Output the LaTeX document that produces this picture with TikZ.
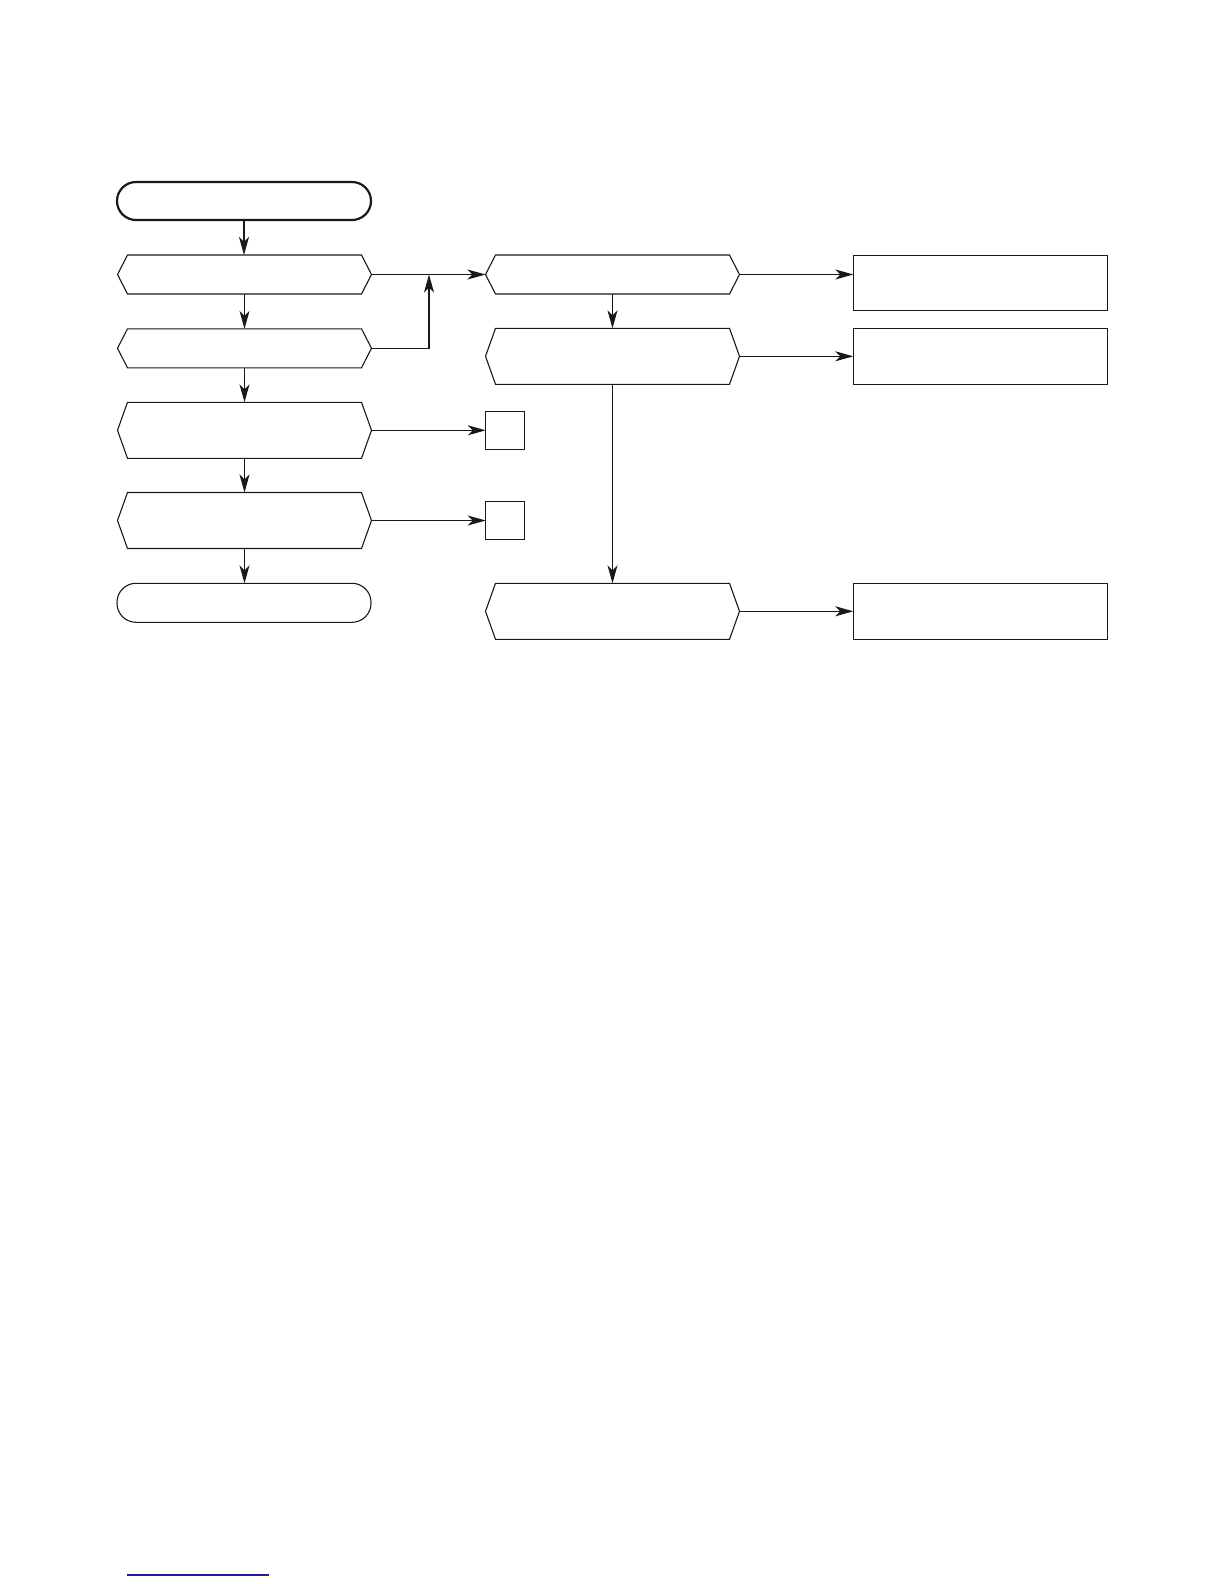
\documentclass[tikz,border=0pt]{standalone}
\usetikzlibrary{arrows.meta}
\definecolor{linkblue}{RGB}{30,30,150}
\definecolor{ink}{RGB}{25,25,25}
\newcommand\hexoutline[1]{%
  \draw[plain] (#1.west) -- ([xshift=10pt]#1.north west) -- ([xshift=-10pt]#1.north east)
    -- (#1.east) -- ([xshift=-10pt]#1.south east) -- ([xshift=10pt]#1.south west) -- cycle;}
\begin{document}
\begin{tikzpicture}[x=1pt,y=-1pt,
  box/.style={draw=ink,line width=1.1pt,inner sep=0pt,outer sep=0pt,minimum width=#1},
  hexbox/.style={inner sep=0pt,outer sep=0pt,minimum width=254pt,minimum height=#1},
  term/.style={draw=ink,inner sep=0pt,outer sep=0pt,minimum width=254pt,minimum height=#1,rounded corners=19pt},
  conn/.style={draw=ink,line width=1.1pt,-{Stealth[length=18pt,width=10pt,inset=5pt]}},
  plain/.style={draw=ink,line width=1.1pt}]
\useasboundingbox (0,0) rectangle (1224,1584);
% left column
\node[term=38pt,line width=2.2pt] (start) at (244,201) {};
\node[hexbox=39pt] (h1) at (244.5,274.5) {};
\node[hexbox=39pt] (h2) at (244.5,348.3) {};
\node[hexbox=56pt] (h3) at (244.5,430.3) {};
\node[hexbox=56pt] (h4) at (244.5,520.5) {};
\node[term=39pt,line width=1.1pt] (stop) at (244,602.8) {};
% small boxes
\node[box=38.5pt,minimum height=38.5pt] (b1) at (505,430.3) {};
\node[box=38.5pt,minimum height=38.5pt] (b2) at (505,520.5) {};
% middle column
\node[hexbox=39pt] (hA) at (612.5,274.5) {};
\node[hexbox=56pt] (hB) at (612.5,356.3) {};
\node[hexbox=56pt] (hC) at (612.5,611.3) {};
% right column
\node[box=254pt,minimum height=55.4pt] (r1) at (980.3,283) {};
\node[box=254pt,minimum height=56pt] (r2) at (980.3,356.3) {};
\node[box=254pt,minimum height=56pt] (r3) at (980.3,611.3) {};
\hexoutline{h1}\hexoutline{h2}\hexoutline{h3}\hexoutline{h4}
\hexoutline{hA}\hexoutline{hB}\hexoutline{hC}
\coordinate (j) at (429,274.5);
% connectors
\draw[conn] (start.south) -- (h1.north -| start.south);
\draw[conn] (h1.south) -- (h2.north);
\draw[conn] (h2.south) -- (h3.north);
\draw[conn] (h3.south) -- (h4.north);
\draw[conn] (h4.south) -- (h4.south |- stop.north);
\draw[conn] (h1.east) -- (hA.west);
\draw[conn] (h2.east) -| (j);
\draw[conn] (h3.east) -- (b1.west);
\draw[conn] (h4.east) -- (b2.west);
\draw[conn] (hA.south) -- (hB.north);
\draw[conn] (hB.south) -- (hC.north);
\draw[conn] (hA.east) -- (hA.east -| r1.west);
\draw[conn] (hB.east) -- (r2.west);
\draw[conn] (hC.east) -- (r3.west);
% footer rule
\draw[linkblue,line width=1.3pt] (127.3,1575) -- (269,1575);
\end{tikzpicture}
\end{document}
